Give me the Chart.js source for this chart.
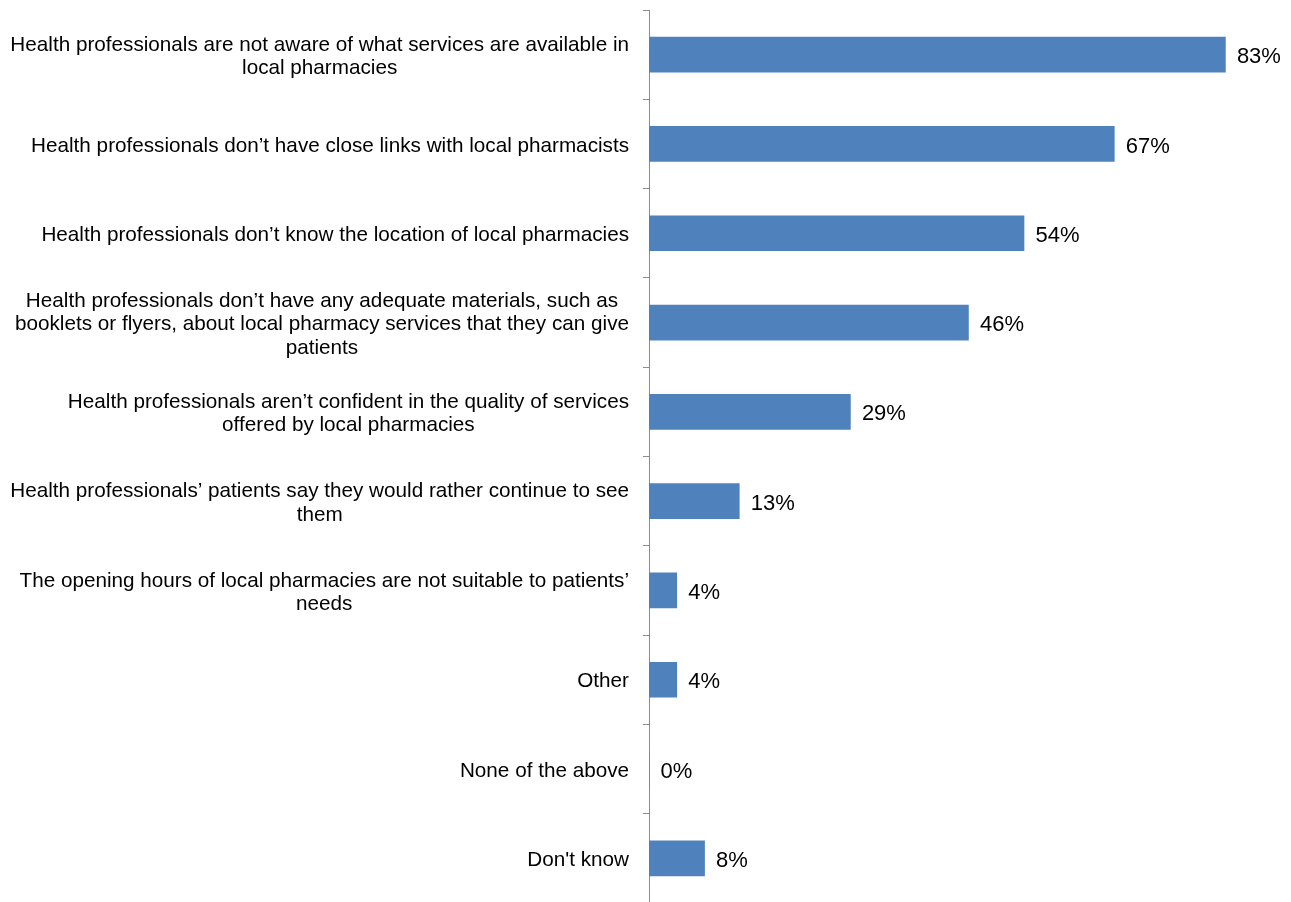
<!DOCTYPE html>
<html>
<head>
<meta charset="utf-8">
<script src="https://cdn.jsdelivr.net/npm/chart.js@4"></script>
<style>
  html, body { margin: 0; padding: 0; background: #fff; overflow: hidden; }
  canvas { display: block; }
</style>
</head>
<body>
<canvas id="reasonsChart" width="1291" height="904"></canvas>
<script>
// Reasons given, each split into the lines it is printed on
const reasons = [
    ['Health professionals are not aware of what services are available in', 'local pharmacies'],
    ['Health professionals don\u2019t have close links with local pharmacists'],
    ['Health professionals don\u2019t know the location of local pharmacies'],
    ['Health professionals don\u2019t have any adequate materials, such as', 'booklets or flyers, about local pharmacy services that they can give', 'patients'],
    ['Health professionals aren\u2019t confident in the quality of services', 'offered by local pharmacies'],
    ['Health professionals\u2019 patients say they would rather continue to see', 'them'],
    ['The opening hours of local pharmacies are not suitable to patients\u2019', 'needs'],
    ['Other'],
    ['None of the above'],
    ['Don\'t know']
];
const shares = [83, 67, 54, 46, 29, 13, 4, 4, 0, 8];

const LABEL_FONT = '20.7px "Liberation Sans", Arial, sans-serif';
const VALUE_FONT = '22px "Liberation Sans", Arial, sans-serif';
const AXIS_GREY = '#8c8c8c';

// category labels: each block centred on itself, right edge at the axis gap
const reasonLabels = {
    id: 'reasonLabels',
    afterDraw(chart) {
        const ctx = chart.ctx;
        const y = chart.scales.y;
        const right = chart.chartArea.left - 20;
        const lineH = 23.3;
        ctx.save();
        ctx.font = LABEL_FONT;
        ctx.fillStyle = '#000';
        ctx.textAlign = 'center';
        ctx.textBaseline = 'middle';
        reasons.forEach((lines, i) => {
            const cy = y.getPixelForValue(i) + 2;
            const w = Math.max(...lines.map(l => ctx.measureText(l).width));
            const cx = right - w / 2;
            lines.forEach((l, j) => {
                ctx.fillText(l, cx, cy + (j - (lines.length - 1) / 2) * lineH);
            });
        });
        ctx.restore();
    }
};

// percentage after each bar
const valueLabels = {
    id: 'valueLabels',
    afterDatasetsDraw(chart) {
        const ctx = chart.ctx;
        const meta = chart.getDatasetMeta(0);
        ctx.save();
        ctx.font = VALUE_FONT;
        ctx.fillStyle = '#000';
        ctx.textAlign = 'left';
        ctx.textBaseline = 'middle';
        meta.data.forEach((bar, i) => {
            ctx.fillText(shares[i] + '%', bar.x + 11.5, bar.y + 2.5);
        });
        ctx.restore();
    }
};

new Chart(document.getElementById('reasonsChart'), {
    type: 'bar',
    data: {
        labels: reasons.map(l => l.join(' ')),
        datasets: [{
            data: shares,
            backgroundColor: '#4F81BD',
            borderWidth: 0,
            barThickness: 35
        }]
    },
    options: {
        indexAxis: 'y',
        responsive: false,
        animation: false,
        layout: { padding: { top: 10, bottom: 1, right: 17 } },
        plugins: {
            legend: { display: false },
            tooltip: { enabled: false }
        },
        scales: {
            x: { display: false, min: 0, max: 90 },
            y: {
                afterFit(scale) { scale.width = 649; },
                ticks: { display: false },
                grid: {
                    offset: true,
                    drawOnChartArea: false,
                    drawTicks: true,
                    tickLength: 6,
                    color: AXIS_GREY
                },
                border: { display: true, color: AXIS_GREY }
            }
        }
    },
    plugins: [reasonLabels, valueLabels]
});
</script>
</body>
</html>
